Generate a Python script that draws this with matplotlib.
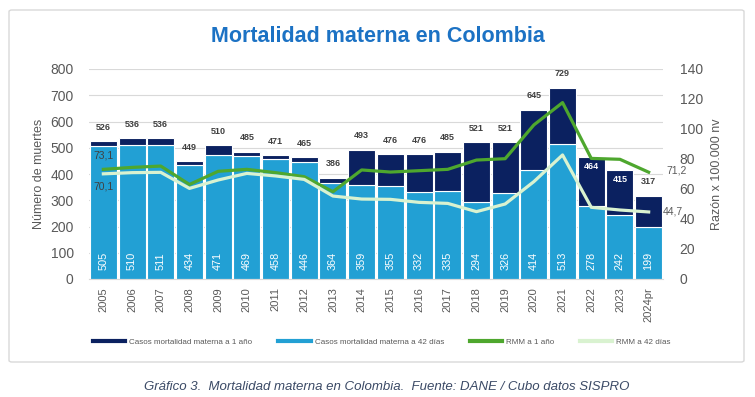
import matplotlib.pyplot as plt
from matplotlib.lines import Line2D
from matplotlib.patches import FancyBboxPatch
import numpy as np

anios = ["2005", "2006", "2007", "2008", "2009", "2010", "2011", "2012", "2013", "2014",
         "2015", "2016", "2017", "2018", "2019", "2020", "2021", "2022", "2023", "2024pr"]
casos_1_anio = [526, 536, 536, 449, 510, 485, 471, 465, 386, 493,
                476, 476, 485, 521, 521, 645, 729, 464, 415, 317]
casos_42_dias = [505, 510, 511, 434, 471, 469, 458, 446, 364, 359,
                 355, 332, 335, 294, 326, 414, 513, 278, 242, 199]
rmm_1_anio = [73.1, 74.4, 75.3, 63.0, 71.8, 73.1, 70.9, 68.2, 58.2, 72.7,
              71.3, 72.2, 73.1, 79.3, 80.2, 102.7, 117.6, 80.4, 79.8, 71.2]
rmm_42_dias = [70.1, 70.9, 71.1, 60.4, 66.0, 70.4, 68.7, 66.4, 55.3, 53.3,
               53.1, 51.1, 50.4, 44.9, 50.0, 64.9, 82.7, 47.8, 46.0, 44.7]

navy = "#0B2160"
azul = "#22A0D4"
verde = "#4EA72E"
verde_claro = "#D9F2D0"
gris = "#595959"

plt.rcParams["font.family"] = ["Liberation Sans", "DejaVu Sans"]

fig = plt.figure(figsize=(7.55, 3.97), dpi=100)
marco = FancyBboxPatch((9 / 755, 1 - 362 / 397), 735 / 755, 352 / 397,
                       boxstyle="round,pad=0,rounding_size=0.004",
                       transform=fig.transFigure, fc="none", ec="#D9D9D9", lw=1, zorder=-1)
fig.patches.append(marco)

ax = fig.add_axes([89 / 755, 1 - 279 / 397, 574 / 755, 210 / 397])
ax.set_facecolor("none")
x = np.arange(len(anios))
w = 0.94

ax.bar(x, casos_42_dias, width=w, color=azul, edgecolor="white", linewidth=0.8, zorder=2)
extra = np.array(casos_1_anio) - np.array(casos_42_dias)
ax.bar(x, extra, bottom=casos_42_dias, width=w, color=navy, edgecolor="white", linewidth=0.8, zorder=2)

for i in range(len(anios)):
    ax.text(x[i], 68, str(casos_42_dias[i]), rotation=90, ha="center", va="center",
            color="white", fontsize=7.8, zorder=4)
    if anios[i] in ("2022", "2023"):
        ax.annotate(str(casos_1_anio[i]), (x[i], casos_1_anio[i]), xytext=(0, -7),
                    textcoords="offset points", ha="center", va="center",
                    color="white", fontsize=6.5, fontweight="bold", zorder=4)
    else:
        ax.annotate(str(casos_1_anio[i]), (x[i], casos_1_anio[i]), xytext=(0, 10),
                    textcoords="offset points", ha="center", va="center",
                    color="#404040", fontsize=6.5, fontweight="bold", zorder=4)

ax.set_xlim(-0.5, len(anios) - 0.5)
ax.set_ylim(0, 800)
ax.set_yticks(range(0, 801, 100))
ax.grid(axis="y", color="#D9D9D9", lw=0.8, zorder=0)
ax.set_axisbelow(True)
ax.set_xticks(x)
ax.set_xticklabels(anios, rotation=90, fontsize=8, color=gris)
ax.tick_params(axis="x", length=0, pad=6)
ax.tick_params(axis="y", length=0, pad=11, labelsize=10, labelcolor=gris)
for s in ["top", "right", "left"]:
    ax.spines[s].set_visible(False)
ax.spines["bottom"].set_color("#D9D9D9")
ax.set_ylabel("Número de muertes", fontsize=9, color=gris, labelpad=4)

ax2 = ax.twinx()
ax2.plot(x, rmm_1_anio, color=verde, lw=2.3, zorder=5)
ax2.plot(x, rmm_42_dias, color=verde_claro, lw=2.3, zorder=5)
ax2.set_ylim(0, 140)
ax2.set_yticks(range(0, 141, 20))
ax2.tick_params(axis="y", length=0, pad=12, labelsize=10, labelcolor=gris)
for s in ax2.spines.values():
    s.set_visible(False)
ax2.set_ylabel("Razón x 100.000 nv", fontsize=9, color=gris, labelpad=6)

ax2.annotate("73,1", (x[0], rmm_1_anio[0]), xytext=(0, 10), textcoords="offset points",
             ha="center", va="center", fontsize=7.5, color="#404040")
ax2.annotate("70,1", (x[0], rmm_42_dias[0]), xytext=(0, -9), textcoords="offset points",
             ha="center", va="center", fontsize=7.5, color="#404040")
ax2.annotate("71,2", (x[-1], rmm_1_anio[-1]), xytext=(13, 1), textcoords="offset points",
             ha="left", va="center", fontsize=7.5, color=gris)
ax2.annotate("44,7", (x[-1], rmm_42_dias[-1]), xytext=(10, 0), textcoords="offset points",
             ha="left", va="center", fontsize=7.5, color=gris)

fig.text(0.5, 1 - 37 / 397, "Mortalidad materna en Colombia", ha="center", va="center",
         fontsize=15.5, fontweight="bold", color="#1C72C4")

handles = [Line2D([], [], color=navy, lw=3), Line2D([], [], color=azul, lw=3),
           Line2D([], [], color=verde, lw=3), Line2D([], [], color=verde_claro, lw=3)]
labels = ["Casos mortalidad materna a 1 año", "Casos mortalidad materna a 42 días",
          "RMM a 1 año", "RMM a 42 días"]
fig.legend(handles, labels, loc="center", bbox_to_anchor=(382 / 755, 1 - 342 / 397),
           ncol=4, frameon=False, fontsize=5.8, handlelength=4, handletextpad=0.5,
           columnspacing=3.2, labelcolor=gris)

fig.text(387 / 755, 1 - 387 / 397,
         "Gráfico 3.  Mortalidad materna en Colombia.  Fuente: DANE / Cubo datos SISPRO",
         ha="center", va="center", fontsize=9.5, style="italic", color="#3B4A66")

fig.savefig("out.png", dpi=100)
